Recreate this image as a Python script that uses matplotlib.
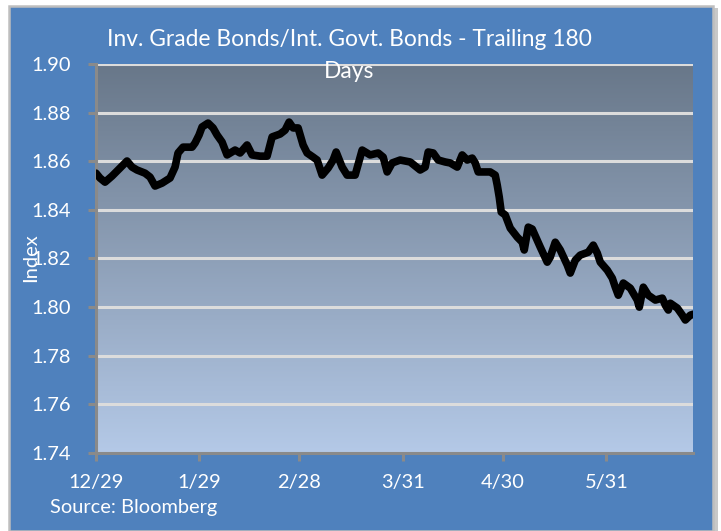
import numpy as np
import matplotlib
matplotlib.use("Agg")
import matplotlib.pyplot as plt
from matplotlib.patches import Rectangle

plt.rcParams['font.family'] = ['Lato', 'DejaVu Sans']

# days since 12/29 and the trailing ratio
days = [0, 1.2, 2.7, 4.8, 7.2, 9.3, 10.8, 12.3, 14.7, 16.2, 17.7, 19.8, 22.2, 23.7,
        24.6, 26.1, 28.8, 29.7, 30.9, 31.8, 33.6, 35.1, 36.3, 37.8, 39.3, 41.7,
        43.2, 45.3, 46.8, 49.2, 51.3, 52.8, 55.2, 56.7, 57.9, 59.1, 60.6, 62.1,
        63.3, 65.1, 66.3, 67.8, 69.6, 71.1, 72.0, 73.8, 75.3, 77.7, 79.8, 82.2,
        84.6, 86.1, 87.3, 88.8, 91.2, 94.2, 97.2, 98.7, 99.6, 101.1, 102.6, 104.7,
        106.2, 108.3, 109.8, 111.3, 112.8, 113.7, 114.6, 118.2, 119.7, 120.3,
        120.9, 121.5, 122.7, 124.2, 126.3, 127.8, 128.4, 129.6, 130.8, 133.2,
        135.3, 136.2, 137.7, 139.2, 141.3, 142.2, 143.7, 145.2, 147.6, 149.1,
        150.3, 151.2, 153.3, 154.8, 155.7, 156.6, 158.1, 160.2, 162.3, 162.9,
        164.1, 165.6, 167.7, 169.8, 170.7, 171.6, 172.2, 174.3, 175.8, 176.7,
        178.2, 179.1]
ratio = [1.8551, 1.8531, 1.8514, 1.8539, 1.8572, 1.8601, 1.8576, 1.8564, 1.8551,
         1.8535, 1.8498, 1.8510, 1.8531, 1.8576, 1.8634, 1.8658, 1.8658, 1.8675,
         1.8708, 1.8741, 1.8757, 1.8737, 1.8708, 1.8679, 1.8626, 1.8646, 1.8634,
         1.8667, 1.8626, 1.8621, 1.8621, 1.8700, 1.8712, 1.8728, 1.8761, 1.8737,
         1.8737, 1.8667, 1.8634, 1.8617, 1.8605, 1.8543, 1.8572, 1.8605, 1.8638,
         1.8576, 1.8543, 1.8543, 1.8646, 1.8626, 1.8634, 1.8617, 1.8556, 1.8593,
         1.8605, 1.8597, 1.8564, 1.8576, 1.8638, 1.8634, 1.8605, 1.8597, 1.8593,
         1.8576, 1.8626, 1.8605, 1.8613, 1.8593, 1.8556, 1.8556, 1.8543, 1.8502,
         1.8453, 1.8391, 1.8379, 1.8325, 1.8288, 1.8267, 1.8235, 1.8329, 1.8321,
         1.8247, 1.8185, 1.8206, 1.8267, 1.8235, 1.8173, 1.8140, 1.8193, 1.8214,
         1.8226, 1.8255, 1.8222, 1.8185, 1.8152, 1.8119, 1.8082, 1.8049, 1.8099,
         1.8078, 1.8029, 1.8000, 1.8082, 1.8049, 1.8029, 1.8037, 1.8008, 1.7988,
         1.8016, 1.7996, 1.7967, 1.7947, 1.7967, 1.7971]

tick_days = [0, 31, 61, 92, 122, 153]
tick_labels = ['12/29', '1/29', '2/28', '3/31', '4/30', '5/31']
y_ticks = [1.74, 1.76, 1.78, 1.80, 1.82, 1.84, 1.86, 1.88, 1.90]

W, H = 721, 531
fig = plt.figure(figsize=(W / 100, H / 100), dpi=100)
fig.patch.set_facecolor('white')

def px(x, y):
    return x / W, 1 - y / H

# chart panel with a soft shadow and grey frame (behind the axes)
shadow = Rectangle(px(12, 540), 706 / W, 532 / H, transform=fig.transFigure,
                   facecolor='#C8C8C8', edgecolor='none', zorder=-3)
fig.patches.append(shadow)
panel = Rectangle(px(9, 531), 704 / W, 525 / H, transform=fig.transFigure,
                  facecolor='#4F81BD', edgecolor='#BEBEBE', lw=1.8, zorder=-2)
fig.patches.append(panel)

l, r, t, b = 96, 693, 64, 453
ax = fig.add_axes([l / W, 1 - b / H, (r - l) / W, (b - t) / H])
ax.set_facecolor('none')

# vertical gradient fill of the plot area
top = np.array([0x68, 0x77, 0x89]) / 255
bot = np.array([0xB4, 0xC9, 0xE7]) / 255
f = np.linspace(0, 1, 256)[:, None]
grad = (top * (1 - f) + bot * f)[:, None, :]
ax.imshow(grad, extent=[0, 179, 1.74, 1.90], aspect='auto', origin='upper',
          zorder=0, interpolation='bilinear')

ax.set_xlim(0, 179)
ax.set_ylim(1.74, 1.90)

ax.set_yticks(y_ticks)
ax.set_yticklabels([f'{v:.2f}' for v in y_ticks])
ax.set_xticks(tick_days)
ax.set_xticklabels(tick_labels)

ax.yaxis.grid(True, color='#DCDCDC', lw=2.2, zorder=1)
ax.set_axisbelow(False)

for s in ['top', 'right']:
    ax.spines[s].set_visible(False)
for s in ['left', 'bottom']:
    ax.spines[s].set_color('#8A8A8A')
    ax.spines[s].set_linewidth(2.2)
    ax.spines[s].set_zorder(3)

ax.tick_params(axis='both', direction='out', length=6, width=2.2,
               color='#8A8A8A', labelcolor='white', labelsize=14.4)
ax.tick_params(axis='y', pad=12)
ax.tick_params(axis='x', pad=9)

ax.plot(days, ratio, color='black', lw=5.5, solid_joinstyle='round',
        solid_capstyle='round', zorder=4)

fig.text(*px(349, 40), 'Inv. Grade Bonds/Int. Govt. Bonds - Trailing 180',
         color='white', fontsize=16.4, ha='center', va='center', zorder=5)
fig.text(*px(349, 71), 'Days', color='white', fontsize=16.4,
         ha='center', va='center', zorder=5)
fig.text(*px(31, 258), 'Index', color='white', fontsize=14.4, rotation=90,
         ha='center', va='center', zorder=5)
fig.text(*px(50, 508), 'Source: Bloomberg', color='white', fontsize=14.4,
         ha='left', va='center', zorder=5)

fig.savefig('out.png', dpi=100)
